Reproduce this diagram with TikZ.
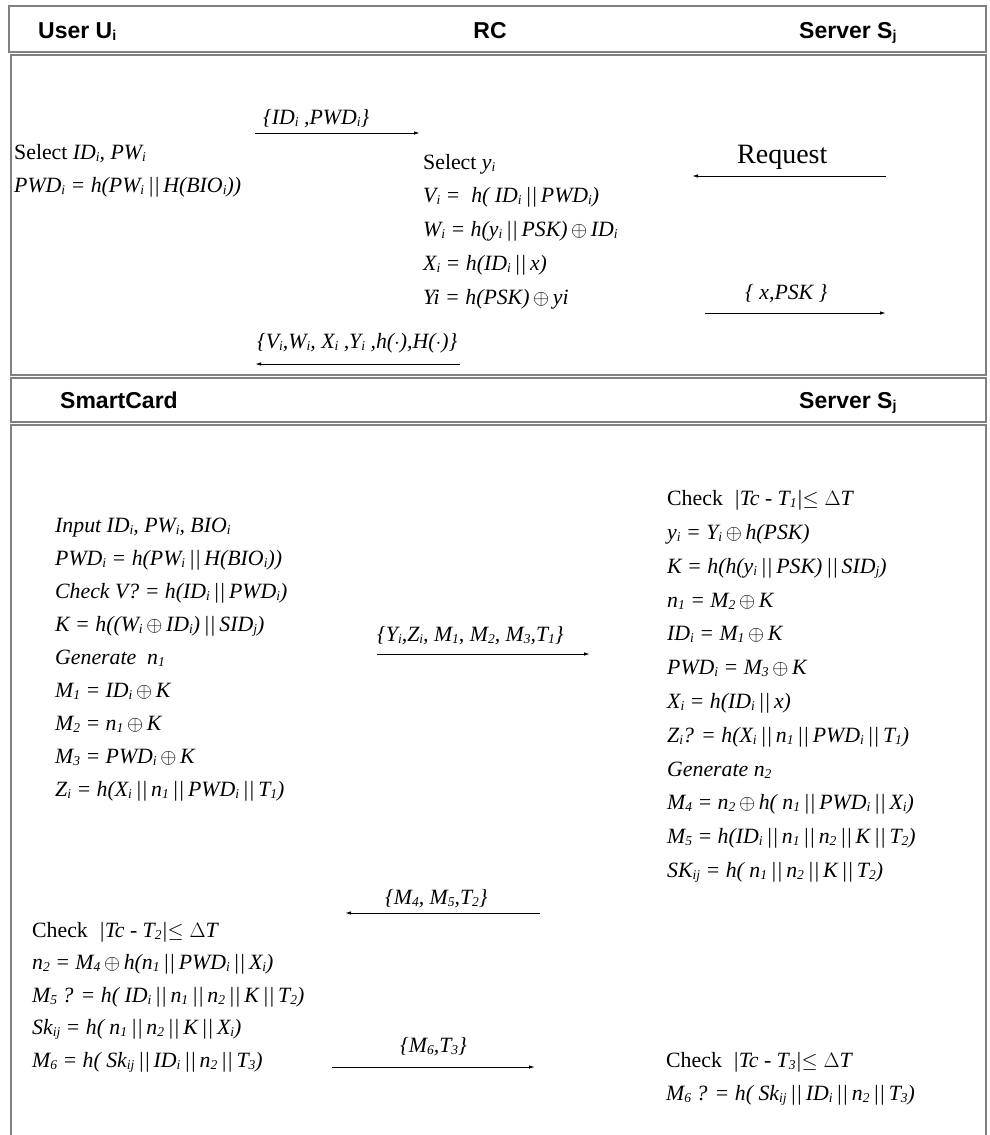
\documentclass[tikz,border=0pt]{standalone}
\usepackage{fontspec}
\usepackage{graphicx}
\setmainfont{Liberation Serif}
\newfontfamily\hdfont{Liberation Sans}
\usetikzlibrary{arrows.meta}
\newcommand{\lo}[1]{\raisebox{-0.12em}{\scalebox{0.62}{#1}}}
\newcommand{\xo}{\,$\oplus$\,}
\newcommand{\pp}{\,||\,}
\begin{document}
\begin{tikzpicture}[x=1pt,y=-1pt,
  frame/.style={draw=black!50, line width=1.6pt},
  hd/.style={anchor=base west, inner sep=0pt, font=\hdfont\bfseries\fontsize{23}{26}\selectfont},
  tx/.style={anchor=base west, inner sep=0pt, font=\fontsize{21.8}{24}\selectfont\itshape},
  msg/.style={-{Latex[length=6pt,width=3.5pt]}, line width=1pt},
]
\useasboundingbox (0,0) rectangle (990,1135);
% frames
\draw[frame] (9,6) rectangle (986,52);
\draw[frame] (11,55) rectangle (986,375);
\draw[frame] (11,378) rectangle (986,422);
\draw[frame] (11,1140) -- (11,425) -- (986,425) -- (986,1140);
% headers
\node[hd] (user) at (38,38) {User U\lo{i}};
\node[hd, anchor=base] (rc) at (490,38) {RC};
\node[hd] (srv1) at (799,38) {Server S\lo{j}};
\node[hd] (card) at (60,408) {SmartCard};
\node[hd] (srv2) at (799,408) {Server S\lo{j}};
% registration: user
\node[tx] (u1) at (14,159) {\upshape Select \itshape ID\lo{i}, PW\lo{i}};
\node[tx] (u2) at (14,192) {PWD\lo{i} = h(PW\lo{i}\pp H(BIO\lo{i}))};
% registration: RC
\node[tx] (c1) at (423,169) {\upshape Select \itshape y\lo{i}};
\node[tx] (c2) at (423,202) {V\lo{i} =\ \ h( ID\lo{i}\pp PWD\lo{i})};
\node[tx] (c3) at (423,236) {W\lo{i} = h(y\lo{i}\pp PSK)\xo ID\lo{i}};
\node[tx] (c4) at (423,270) {X\lo{i} = h(ID\lo{i}\pp x)};
\node[tx] (c5) at (423,304) {Yi = h(PSK)\xo yi};
% registration messages
\node[tx] (l1) at (263,124) {\{ID\lo{i} ,PWD\lo{i}\}};
\coordinate (a1s) at (255,133); \coordinate (a1e) at (420,133);
\draw[msg] (a1s) -- (a1e);
\node[anchor=base west, inner sep=0pt, font=\fontsize{28}{32}\selectfont] (req) at (737,163) {Request};
\coordinate (a2s) at (886,176); \coordinate (a2e) at (692,176);
\draw[msg] (a2s) -- (a2e);
\node[tx] (l3) at (745,299) {\{ x,PSK \}};
\coordinate (a3s) at (705,313); \coordinate (a3e) at (886,313);
\draw[msg] (a3s) -- (a3e);
\node[tx] (l4) at (257,348) {\{V\lo{i},W\lo{i}, X\lo{i} ,Y\lo{i} ,h($\cdot$),H($\cdot$)\}};
\coordinate (a4s) at (460,364); \coordinate (a4e) at (255,364);
\draw[msg] (a4s) -- (a4e);
% login: smart card
\node[tx] (s1) at (55,532) {Input ID\lo{i}, PW\lo{i}, BIO\lo{i}};
\node[tx] (s2) at (55,565) {PWD\lo{i} = h(PW\lo{i}\pp H(BIO\lo{i}))};
\node[tx] (s3) at (55,598) {Check V? = h(ID\lo{i}\pp PWD\lo{i})};
\node[tx] (s4) at (55,631) {K = h((W\lo{i}\xo ID\lo{i})\pp SID\lo{j})};
\node[tx] (s5) at (55,664) {Generate\ \ n\lo{1}};
\node[tx] (s6) at (55,697) {M\lo{1} = ID\lo{i}\xo K};
\node[tx] (s7) at (55,730) {M\lo{2} = n\lo{1}\xo K};
\node[tx] (s8) at (55,763) {M\lo{3} = PWD\lo{i}\xo K};
\node[tx] (s9) at (55,796) {Z\lo{i} = h(X\lo{i}\pp n\lo{1}\pp PWD\lo{i}\pp T\lo{1})};
\node[tx] (l5) at (377,641) {\{Y\lo{i},Z\lo{i}, M\lo{1}, M\lo{2}, M\lo{3},T\lo{1}\}};
\coordinate (a5s) at (377,654); \coordinate (a5e) at (590,654);
\draw[msg] (a5s) -- (a5e);
% login: server
\node[tx] (v1) at (667,505) {\upshape Check\ \ \itshape |Tc - T\lo{1}|$\leq\Delta$T};
\node[tx] (v2) at (667,539) {y\lo{i} = Y\lo{i}\xo h(PSK)};
\node[tx] (v3) at (667,573) {K = h(h(y\lo{i}\pp PSK)\pp SID\lo{j})};
\node[tx] (v4) at (667,607) {n\lo{1} = M\lo{2}\xo K};
\node[tx] (v5) at (667,640) {ID\lo{i} = M\lo{1}\xo K};
\node[tx] (v6) at (667,674) {PWD\lo{i} = M\lo{3}\xo K};
\node[tx] (v7) at (667,708) {X\lo{i} = h(ID\lo{i}\pp x)};
\node[tx] (v8) at (667,742) {Z\lo{i}? = h(X\lo{i}\pp n\lo{1}\pp PWD\lo{i}\pp T\lo{1})};
\node[tx] (v9) at (667,776) {Generate n\lo{2}};
\node[tx] (v10) at (667,809) {M\lo{4} = n\lo{2}\xo h( n\lo{1}\pp PWD\lo{i}\pp X\lo{i})};
\node[tx] (v11) at (667,843) {M\lo{5} = h(ID\lo{i}\pp n\lo{1}\pp n\lo{2}\pp K\pp T\lo{2})};
\node[tx] (v12) at (667,877) {SK\lo{ij} = h( n\lo{1}\pp n\lo{2}\pp K\pp T\lo{2})};
\node[tx] (l6) at (385,904) {\{M\lo{4}, M\lo{5},T\lo{2}\}};
\coordinate (a6s) at (540,913); \coordinate (a6e) at (345,913);
\draw[msg] (a6s) -- (a6e);
% login: smart card second part
\node[tx] (w1) at (32,937) {\upshape Check\ \ \itshape |Tc - T\lo{2}|$\leq\Delta$T};
\node[tx] (w2) at (32,969) {n\lo{2} = M\lo{4}\xo h(n\lo{1}\pp PWD\lo{i}\pp X\lo{i})};
\node[tx] (w3) at (32,1002) {M\lo{5} ? = h( ID\lo{i}\pp n\lo{1}\pp n\lo{2}\pp K\pp T\lo{2})};
\node[tx] (w4) at (32,1034) {Sk\lo{ij} = h( n\lo{1}\pp n\lo{2}\pp K\pp X\lo{i})};
\node[tx] (w5) at (32,1067) {M\lo{6} = h( Sk\lo{ij}\pp ID\lo{i}\pp n\lo{2}\pp T\lo{3})};
\node[tx] (l7) at (400,1052) {\{M\lo{6},T\lo{3}\}};
\coordinate (a7s) at (332,1067); \coordinate (a7e) at (535,1067);
\draw[msg] (a7s) -- (a7e);
% login: server final
\node[tx] (z1) at (666,1067) {\upshape Check\ \ \itshape |Tc - T\lo{3}|$\leq\Delta$T};
\node[tx] (z2) at (666,1100) {M\lo{6} ? = h( Sk\lo{ij}\pp ID\lo{i}\pp n\lo{2}\pp T\lo{3})};
\end{tikzpicture}
\end{document}
